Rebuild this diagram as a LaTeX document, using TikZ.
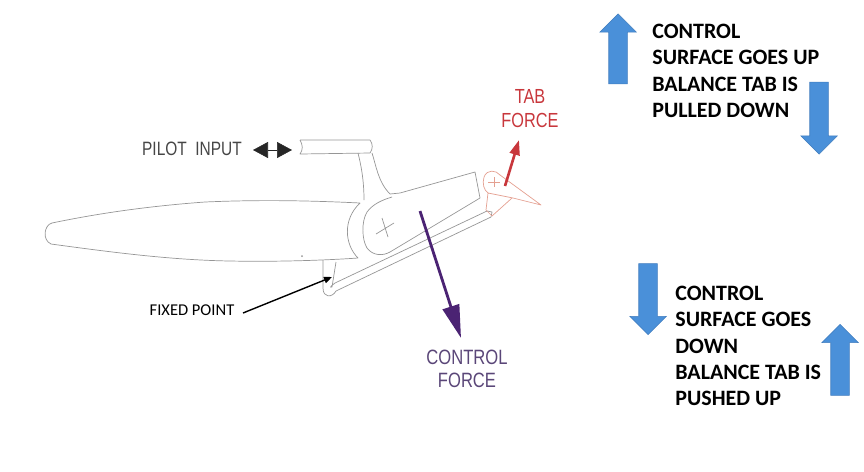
\documentclass[tikz,border=0pt]{standalone}
\usepackage{fontspec}
\setmainfont{Carlito}
\newfontfamily\labelsans[FakeStretch=0.8]{Liberation Sans}
\usetikzlibrary{arrows.meta,shapes.arrows}
\definecolor{arrowblue}{RGB}{74, 144, 217}
\definecolor{arrowedge}{RGB}{65, 125, 190}
\definecolor{outlinegray}{RGB}{150, 150, 150}
\definecolor{tabred}{RGB}{200, 55, 60}
\definecolor{tabpink}{RGB}{228, 160, 145}
\definecolor{forcepurple}{RGB}{75, 35, 115}
\definecolor{forcetext}{RGB}{90, 70, 120}
\definecolor{labelgray}{RGB}{70, 70, 70}

\begin{document}
\begin{tikzpicture}[
    x=0.02cm, y=-0.02cm,
    blockarrow/.style={single arrow, draw=arrowedge, fill=arrowblue, line width=0.3pt,
                inner xsep=0pt, inner ysep=0.18cm, outer sep=0pt,
                minimum width=0.72cm, single arrow head extend=0.18cm, single arrow head indent=0pt},
    note/.style={font=\fontsize{12.5}{14.9}\selectfont\bfseries, align=left, anchor=north west, inner sep=0pt},
    outline/.style={draw=outlinegray, line width=0.4pt, line join=round},
    tabline/.style={draw=tabpink, line width=0.4pt, line join=round},
    side_label/.style={align=center, inner sep=0pt}
  ]
    \useasboundingbox (0,0) rectangle (864,471);

    % main surface
    \draw[outline] (360,203) .. controls (300,200) and (250,200) .. (205,202)
        .. controls (150,206) and (100,213) .. (52,223)
        .. controls (44,225) and (42,240) .. (51,244)
        .. controls (110,252) and (170,260) .. (230,261)
        .. controls (280,262) and (330,260) .. (358,258)
        .. controls (345,245) and (342,220) .. (360,203);
    \fill[outlinegray] (302,256) circle (1);
    % strut and rod
    \draw[outline] (323,260) -- (323,288) .. controls (323,298) and (332,298) .. (336,291)
        -- (491,217) -- (492,212) -- (487,211) -- (335,283) .. controls (331,286) and (329,288) .. (332,287)
        -- (336,262);
    % horn and moving surface
    \draw[outline] (300,140) -- (370,140) .. controls (373,144) and (373,149) .. (370,153)
        -- (300,154) .. controls (303,150) and (303,145) .. (300,140);
    \draw[outline] (358,153) .. controls (361,165) and (364,180) .. (364,200);
    \draw[outline] (372,153) .. controls (376,165) and (378,182) .. (390,194)
        -- (400,193) -- (475,172) -- (480,198) -- (390,252)
        .. controls (383,256) and (373,256) .. (367,248)
        .. controls (362,240) and (361,222) .. (367,212)
        .. controls (373,204) and (382,200) .. (392,197);
    \draw[outline] (376,234) -- (394,223) (382,218) -- (388,237);
    % tab
    \draw[tabline] (500,175) .. controls (496,170) and (487,169) .. (484,177)
        .. controls (482,184) and (484,190) .. (488,193);
    \draw[tabline] (500,175) -- (541,205) -- (513,198) -- (488,193) -- (486,210) -- (492,216) -- (512,198);
    \draw[tabline] (488,182) -- (500,182) (494,177) -- (494,187);

    \node[blockarrow, rotate=90]  (up_a)   at (618,53.5)  [minimum height=1.4cm] {};
    \node[blockarrow, rotate=-90] (down_a) at (819,113.5) [minimum height=1.44cm] {};
    \node[blockarrow, rotate=-90] (down_b) at (648,294.5) [minimum height=1.42cm] {};
    \node[blockarrow, rotate=90]  (up_b)   at (840,364.5) [minimum height=1.42cm] {};

    \node[note] (note_up)   at (652,24)  {CONTROL\\SURFACE GOES UP\\BALANCE TAB IS\\PULLED DOWN};
    \node[note] (note_down) at (675,286) {CONTROL\\SURFACE GOES\\DOWN\\BALANCE TAB IS\\PUSHED UP};

    \node[side_label, text=labelgray, font=\labelsans\fontsize{11}{13}\selectfont] (pilot) at (192,149) {PILOT\ \ INPUT};
    \node[side_label, text=tabred, font=\labelsans\fontsize{11.6}{13.6}\selectfont] (tabforce) at (530,109) {TAB\\FORCE};
    \node[side_label, text=forcetext, font=\labelsans\fontsize{11.8}{13.2}\selectfont] (controlforce) at (467,369) {CONTROL\\FORCE};
    \node[inner sep=0pt, font=\fontsize{9.4}{11}\selectfont] (fixed) at (192,310) {FIXED POINT};

    \coordinate (pilot_l) at (253,150);
    \coordinate (pilot_r) at (292,150);
    \coordinate (tab_a) at (505,186);
    \coordinate (tab_b) at (519,140);
    \coordinate (ctrl_a) at (420,211);
    \coordinate (ctrl_b) at (461,338);
    \coordinate (fixed_a) at (243,313);
    \coordinate (fixed_b) at (332,277);

    \draw[line width=0.3pt, black!85, {Triangle[length=0.3cm, width=0.32cm]}-{Triangle[length=0.3cm, width=0.32cm]}] (pilot_l) -- (pilot_r);
    \draw[line width=1.5pt, tabred, -{Triangle[length=0.3cm, width=0.2cm]}] (tab_a) -- (tab_b);
    \draw[line width=1.6pt, forcepurple, -{Triangle[length=0.66cm, width=0.34cm]}] (ctrl_a) -- (ctrl_b);
    \draw[line width=0.8pt, black, -{Triangle[length=0.16cm, width=0.13cm]}] (fixed_a) -- (fixed_b);
  \end{tikzpicture}
\end{document}
